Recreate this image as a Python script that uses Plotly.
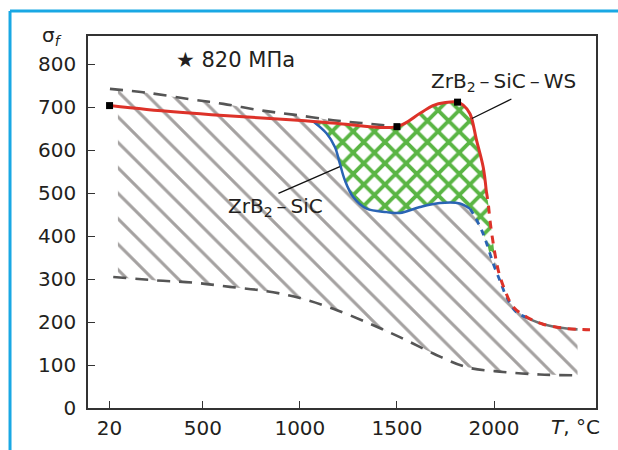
import plotly.graph_objects as go

# ---------------- data ----------------
x_ticks = [20, 500, 1000, 1500, 2000]
y_ticks = [0, 100, 200, 300, 400, 500, 600, 700, 800]

# ZrB2-SiC-WS (red), solid part
red_T = [20, 211, 606, 949, 1069, 1206, 1500, 1619, 1685, 1750, 1812, 1841, 1876, 1910, 1944, 1960]
red_S = [704, 695, 681, 671, 667, 662, 655, 686, 704, 711, 712, 705, 685, 623, 561, 505]
# red, dashed part
red_dash_T = [1960, 1970, 1979, 1996, 2022, 2056, 2099, 2168, 2253, 2374, 2494]
red_dash_S = [505, 476, 437, 383, 320, 274, 235, 212, 195, 185, 182]
# measured points (black squares)
pts_T = [20, 1500, 1812]
pts_S = [704, 655, 712]

# ZrB2-SiC (blue), solid part
blue_T = [1069, 1138, 1181, 1206, 1232, 1275, 1344, 1447, 1515, 1619, 1721, 1824, 1876]
blue_S = [667, 639, 607, 569, 530, 491, 464, 456, 454, 468, 477, 476, 464]
# blue, dashed part
blue_dash_T = [1876, 1893, 1936, 1962, 1996, 2030, 2065, 2116, 2185]
blue_dash_S = [464, 452, 414, 383, 336, 297, 258, 223, 208]

# upper and lower gray dashed bounds
up_T = [22, 211, 434, 606, 795, 966, 1171, 1325, 1460]
up_S = [743, 734, 719, 708, 693, 683, 670, 663, 657]
low_T = [39, 263, 451, 640, 829, 1000, 1172, 1361, 1515, 1687, 1859, 2047, 2236, 2425]
low_S = [305, 297, 292, 282, 272, 256, 231, 196, 165, 127, 95, 84, 78, 76]
right_T = [2150, 2253, 2374, 2430]
right_S = [214, 195, 185, 183]

# hatched band edges
hatch_left_T = 63
hatch_right_T = 2430

# ---------------- figure ----------------
RED = "#dd3229"
BLUE = "#2a64b4"
GREEN = "#5ab544"
HATCH = "#a4a1a0"
DGRAY = "#555555"
FONT = "DejaVu Sans"
TXT = "#231f20"

fig = go.Figure()

# gray hatched region
red_tail = [1500, 1619, 1685, 1750, 1812, 1841, 1876, 1910, 1944, 1960]
hx = [hatch_left_T] + [t for t in up_T if t > hatch_left_T] + red_tail \
     + red_dash_T[1:9] + [2374, hatch_right_T, hatch_right_T] + [t for t in reversed(low_T) if t > hatch_left_T] + [hatch_left_T]
hy = [742] + [s for t, s in zip(up_T, up_S) if t > hatch_left_T] + [red_S[red_T.index(t)] for t in red_tail] \
     + red_dash_S[1:9] + [185, 183, 76] + [s for t, s in zip(reversed(low_T), reversed(low_S)) if t > hatch_left_T] + [304]
fig.add_trace(go.Scatter(
    x=hx, y=hy, mode="lines", fill="toself", line=dict(width=0, color="rgba(0,0,0,0)"),
    fillcolor="rgba(0,0,0,0)",
    fillpattern=dict(shape="\\", size=18, solidity=0.17, fgcolor=HATCH, fgopacity=1,
                     bgcolor="rgba(255,255,255,0)"),
    hoverinfo="skip", showlegend=False))

# green cross-hatched region between red and blue
i0 = red_T.index(1069)
gx = red_T[i0:] + red_dash_T[1:4] + [2003] + list(reversed(blue_dash_T[:5])) + list(reversed(blue_T))
gy = red_S[i0:] + red_dash_S[1:4] + [340] + list(reversed(blue_dash_S[:5])) + list(reversed(blue_S))
fig.add_trace(go.Scatter(
    x=gx, y=gy, mode="lines", fill="toself", line=dict(width=0, color="rgba(0,0,0,0)", shape="spline"),
    fillcolor="white",
    fillpattern=dict(shape="x", size=15, solidity=0.45, fgcolor=GREEN, fgopacity=1, bgcolor="white"),
    hoverinfo="skip", showlegend=False))

# gray dashed bounds
for tx, sy in [(up_T, up_S), (low_T, low_S)]:
    fig.add_trace(go.Scatter(x=tx, y=sy, mode="lines", line=dict(color=DGRAY, width=2.6, dash="13px,9px", shape="spline"),
                             hoverinfo="skip", showlegend=False))
fig.add_trace(go.Scatter(x=right_T, y=right_S, mode="lines", line=dict(color="#6d7070", width=2.6, shape="spline"),
                         hoverinfo="skip", showlegend=False))

# blue curve
fig.add_trace(go.Scatter(x=blue_T, y=blue_S, mode="lines", line=dict(color=BLUE, width=2.5, shape="spline"),
                         hoverinfo="skip", showlegend=False))
fig.add_trace(go.Scatter(x=blue_dash_T, y=blue_dash_S, mode="lines", line=dict(color=BLUE, width=2.8, dash="6px,6px", shape="spline"),
                         hoverinfo="skip", showlegend=False))

# red curve
fig.add_trace(go.Scatter(x=red_T, y=red_S, mode="lines", line=dict(color=RED, width=3, shape="spline"),
                         hoverinfo="skip", showlegend=False))
fig.add_trace(go.Scatter(x=red_dash_T, y=red_dash_S, mode="lines", line=dict(color=RED, width=3, dash="8px,7px", shape="spline"),
                         hoverinfo="skip", showlegend=False))
fig.add_trace(go.Scatter(x=pts_T, y=pts_S, mode="markers", marker=dict(symbol="square", size=7, color="black"),
                         hoverinfo="skip", showlegend=False))

# text labels
tf = dict(family=FONT, size=20, color=TXT)
fig.add_annotation(x=666, y=809, xref="x", yref="y", text="★ 820 МПа", showarrow=False,
                   font=dict(family=FONT, size=21, color=TXT))
fig.add_annotation(x=877, y=469, xref="x", yref="y", text="ZrB<sub>2</sub>\u2009–\u2009SiC", showarrow=False, font=tf)
fig.add_annotation(x=2047, y=758, xref="x", yref="y", text="ZrB<sub>2</sub>\u2009–\u2009SiC\u2009–\u2009WS", showarrow=False, font=tf)
fig.add_annotation(x=1206, y=562, ax=882, ay=498, xref="x", yref="y", axref="x", ayref="y", text="",
                   showarrow=True, arrowhead=0, arrowwidth=1.3, arrowcolor="#111")
fig.add_annotation(x=1886, y=674, ax=2097, ay=721, xref="x", yref="y", axref="x", ayref="y", text="",
                   showarrow=True, arrowhead=0, arrowwidth=1.3, arrowcolor="#111")
fig.add_annotation(x=-0.071, y=1.0, xref="paper", yref="paper", text="σ<sub><i>f</i></sub>", showarrow=False,
                   font=tf, xanchor="center", yanchor="middle")
fig.add_annotation(x=2418, y=-0.052, xref="x", yref="paper", text="<i>T</i>, °C", showarrow=False,
                   font=tf, xanchor="center", yanchor="middle")

# cyan frame of the page
CYAN = "#19a8e4"
fig.add_shape(type="line", xref="paper", yref="paper", x0=-0.1535, x1=-0.1535, y0=-0.2, y1=1.0675,
              line=dict(color=CYAN, width=3))
fig.add_shape(type="line", xref="paper", yref="paper", x0=-0.1535, x1=1.1, y0=1.0675, y1=1.0675,
              line=dict(color=CYAN, width=3))

axis_common = dict(showline=True, mirror=True, linecolor="#333", linewidth=1.5, ticks="inside", ticklen=7,
                   tickcolor="#333", tickwidth=1.3, showgrid=False, zeroline=False, automargin=False,
                   tickfont=dict(family=FONT, size=20, color=TXT))
fig.update_xaxes(range=[-91, 2525], tickvals=x_ticks, ticktext=[str(v) for v in x_ticks], ticklabelstandoff=1, **axis_common)
fig.update_yaxes(range=[0, 866], tickvals=y_ticks, ticktext=[str(v) for v in y_ticks], ticklabelstandoff=6, **axis_common)

fig.update_layout(width=618, height=450, margin=dict(l=88, r=22, t=36, b=42, autoexpand=False),
                  plot_bgcolor="white", paper_bgcolor="white", showlegend=False)

fig.write_html("out.html", config={"displayModeBar": False},
               post_script="document.body.style.margin='0';document.body.style.overflow='hidden';")
